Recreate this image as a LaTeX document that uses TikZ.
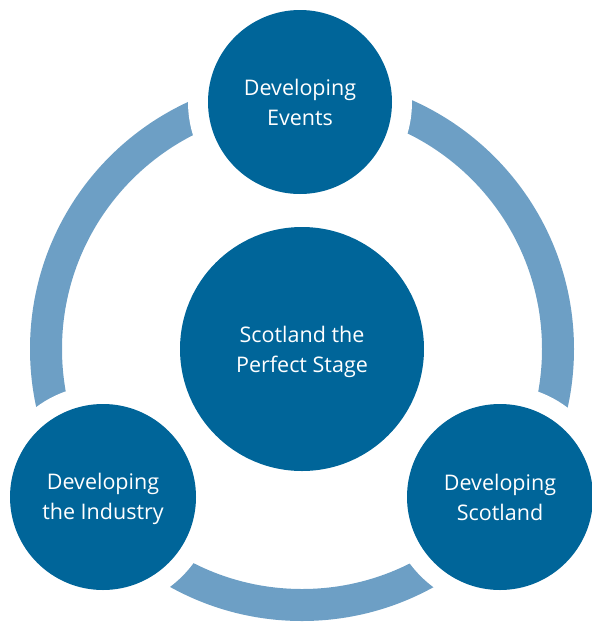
\documentclass[tikz,border=0pt]{standalone}
\usepackage{fontspec}
\setmainfont{Open Sans}
\definecolor{darkblue}{RGB}{0,101,153}
\definecolor{ringblue}{RGB}{109,159,197}
\tikzset{
  bubble/.style={circle, fill=darkblue, text=white, inner sep=0pt, align=center,
    font=\fontsize{21.5}{30}\selectfont},
  bubbletext/.style={fill=none, text=white, inner sep=0pt, align=center,
    font=\fontsize{21.5}{30}\selectfont},
  gapdisc/.style={fill=white}
}
\begin{document}
\begin{tikzpicture}[x=1pt,y=-1pt]
\useasboundingbox (0,0) rectangle (592,622);
% ring
\fill[ringblue, even odd rule] (302,349) circle (272pt) (302,349) circle (240pt);
% white gaps around the outer bubbles
\fill[gapdisc] (300,102) circle (112pt);
\fill[gapdisc] (103,497) circle (112pt);
\fill[gapdisc] (500,497) circle (112pt);
% bubbles
\node[bubble, minimum size=244pt] (center) at (302,349) {};
\node[bubbletext] (centertext) at (302,352) {Scotland the\\Perfect Stage};
\node[bubble, minimum size=184pt] (top) at (300,102) {Developing\\Events};
\node[bubble, minimum size=186pt] (left) at (103,497) {};
\node[bubbletext] (lefttext) at (103,499) {Developing\\the Industry};
\node[bubble, minimum size=186pt] (right) at (500,497) {Developing\\Scotland};
\end{tikzpicture}
\end{document}
